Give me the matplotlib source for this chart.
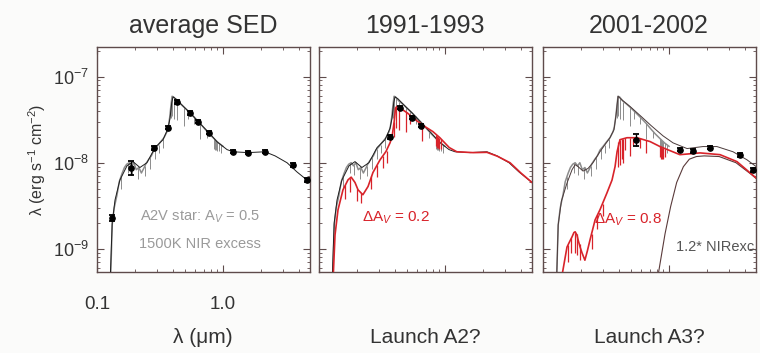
"""
Three-panel SED figure: average SED, 1991-1993 and 2001-2002 epochs.
"""
import matplotlib
matplotlib.use("Agg")
import matplotlib.pyplot as plt
from matplotlib.ticker import LogLocator, FixedLocator, FixedFormatter, NullFormatter

plt.rcParams["font.family"] = ["Liberation Sans", "DejaVu Sans"]
plt.rcParams["mathtext.fontset"] = "custom"
plt.rcParams["mathtext.rm"] = "Liberation Sans"
plt.rcParams["mathtext.it"] = "Liberation Sans:italic"

# ---- shared stellar spectrum (grey) ----
star_wl = [0.128, 0.132, 0.137, 0.144, 0.150, 0.158, 0.165, 0.172, 0.180, 0.188,
           0.196, 0.205, 0.215, 0.225, 0.235, 0.245, 0.258, 0.270, 0.283, 0.300,
           0.320, 0.340, 0.360, 0.368, 0.378, 0.386, 0.394, 0.405, 0.43, 0.46,
           0.50, 0.55, 0.60, 0.66, 0.72, 0.78, 0.85, 0.92, 1.00]
star_flux = [4.0e-10, 1.9e-9, 3.0e-9, 4.2e-9, 6.0e-9, 7.5e-9, 8.8e-9, 9.6e-9, 1.0e-8, 9.2e-9,
             1.0e-8, 8.3e-9, 8.8e-9, 7.6e-9, 8.6e-9, 9.8e-9, 1.1e-8, 1.2e-8, 1.4e-8, 1.55e-8,
             1.75e-8, 1.95e-8, 2.3e-8, 2.6e-8, 3.4e-8, 4.6e-8, 5.9e-8, 5.8e-8, 5.2e-8, 4.8e-8,
             4.3e-8, 3.75e-8, 3.3e-8, 2.85e-8, 2.45e-8, 2.15e-8, 1.9e-8, 1.7e-8, 1.55e-8]
star_line_wl = [0.155, 0.175, 0.19, 0.21, 0.24, 0.265, 0.29, 0.31, 0.335, 0.389, 0.397, 0.410,
                0.434, 0.486, 0.527, 0.589, 0.656, 0.75, 0.845, 0.866, 0.886, 0.901, 0.923, 0.955]
star_line_top = [6.8e-9, 9.8e-9, 9.5e-9, 8.6e-9, 9.2e-9, 1.15e-8, 1.45e-8, 1.6e-8, 1.9e-8, 5.2e-8,
                 5.9e-8, 5.7e-8, 5.1e-8, 4.4e-8, 4.0e-8, 3.45e-8, 2.9e-8, 2.35e-8, 1.9e-8, 1.85e-8,
                 1.8e-8, 1.75e-8, 1.7e-8, 1.62e-8]
star_line_bot = [5.0e-9, 7.5e-9, 7.2e-9, 6.5e-9, 7.0e-9, 8.5e-9, 1.1e-8, 1.3e-8, 1.5e-8, 3.3e-8,
                 3.5e-8, 3.2e-8, 3.1e-8, 2.7e-8, 3.2e-8, 2.8e-8, 1.9e-8, 1.95e-8, 1.45e-8, 1.4e-8,
                 1.4e-8, 1.35e-8, 1.35e-8, 1.3e-8]

# ---- total model, star + 1500K excess (black) ----
model_wl = [0.127, 0.132, 0.139, 0.152, 0.173, 0.193, 0.219, 0.249, 0.289, 0.334, 0.366,
            0.380, 0.392, 0.401, 0.424, 0.50, 0.547, 0.634, 0.774, 0.896, 1.076, 1.2,
            1.58, 2.15, 2.59, 3.22, 3.87, 4.9]
model_flux = [4.0e-10, 2.0e-9, 3.7e-9, 6.3e-9, 9.2e-9, 1.03e-8, 8.8e-9, 1.0e-8, 1.5e-8, 1.85e-8,
              2.5e-8, 3.3e-8, 5.0e-8, 5.8e-8, 5.5e-8, 4.3e-8, 3.8e-8, 3.0e-8, 2.23e-8, 1.75e-8,
              1.42e-8, 1.34e-8, 1.31e-8, 1.34e-8, 1.2e-8, 1.0e-8, 7.8e-9, 5.9e-9]

# ---- photometry ----
avg_wl = [0.132, 0.186, 0.283, 0.366, 0.431, 0.547, 0.634, 0.774, 1.2, 1.58, 2.15, 3.6, 4.64]
avg_flux = [2.3e-9, 8.75e-9, 1.49e-8, 2.55e-8, 5.1e-8, 3.8e-8, 3.0e-8, 2.23e-8, 1.34e-8,
            1.31e-8, 1.34e-8, 9.5e-9, 6.3e-9]
avg_err = [2.0e-10, 1.6e-9, 8.0e-10, 1.2e-9, 2.5e-9, 1.8e-9, 1.4e-9, 1.0e-9, 6.0e-10,
           6.0e-10, 6.0e-10, 5.0e-10, 4.0e-10]

e91_wl = [0.366, 0.44, 0.547, 0.64]
e91_flux = [2.0e-8, 4.36e-8, 3.33e-8, 2.7e-8]
e91_err = [1.0e-9, 2.0e-9, 1.5e-9, 1.2e-9]

e01_wl = [0.547, 1.22, 1.55, 2.11, 3.66, 4.64]
e01_flux = [1.85e-8, 1.42e-8, 1.38e-8, 1.5e-8, 1.24e-8, 8.3e-9]
e01_err = [3.0e-9, 7.0e-10, 7.0e-10, 7.0e-10, 6.0e-10, 5.0e-10]

# ---- 1991-1993: dAv = 0.2 (red) ----
red2_wl = [0.129, 0.134, 0.1415, 0.155, 0.170, 0.180, 0.193, 0.204, 0.223, 0.245, 0.268,
           0.305, 0.340, 0.366, 0.380, 0.395, 0.405, 0.415, 0.44, 0.50, 0.60, 0.70, 0.80,
           0.91, 1.08, 1.24, 1.67, 2.15, 2.6, 3.28, 4.0, 4.9]
red2_flux = [4.0e-10, 1.45e-9, 2.84e-9, 4.85e-9, 6.34e-9, 6.8e-9, 5.9e-9, 4.85e-9, 4.25e-9,
             5.3e-9, 7.7e-9, 1.08e-8, 1.35e-8, 1.7e-8, 2.0e-8, 3.0e-8, 4.3e-8, 4.5e-8, 4.3e-8,
             3.8e-8, 3.05e-8, 2.6e-8, 2.3e-8, 1.95e-8, 1.5e-8, 1.34e-8, 1.31e-8, 1.32e-8,
             1.19e-8, 1.0e-8, 7.6e-9, 5.9e-9]
red2_line_wl = [0.16, 0.175, 0.20, 0.215, 0.26, 0.29, 0.32, 0.345, 0.397, 0.41, 0.434, 0.486,
                0.527, 0.656, 0.85, 0.866, 0.886, 0.901, 0.923]
red2_line_top = [5.5e-9, 6.6e-9, 5.0e-9, 4.5e-9, 7.0e-9, 9.5e-9, 1.2e-8, 1.38e-8, 3.0e-8, 4.4e-8,
                 4.3e-8, 3.9e-8, 3.6e-8, 2.9e-8, 2.1e-8, 2.05e-8, 2.0e-8, 1.95e-8, 1.9e-8]
red2_line_bot = [3.8e-9, 4.6e-9, 3.6e-9, 3.4e-9, 5.0e-9, 6.8e-9, 8.8e-9, 1.0e-8, 2.0e-8, 2.5e-8,
                 2.4e-8, 2.3e-8, 2.8e-8, 1.8e-8, 1.55e-8, 1.5e-8, 1.5e-8, 1.45e-8, 1.45e-8]

# ---- 2001-2002: dAv = 0.8 (red), 1.2x NIR excess ----
m3_wl = [0.128, 0.132, 0.14, 0.155, 0.17, 0.18, 0.19, 0.208, 0.228, 0.249, 0.283, 0.31, 0.34,
         0.366, 0.38, 0.394, 0.42, 0.49, 0.60, 0.72, 0.896, 1.076, 1.39, 1.86, 2.4, 3.22,
         4.16, 5.3]
m3_flux = [4.0e-10, 1.9e-9, 3.6e-9, 5.8e-9, 8.3e-9, 9.5e-9, 9.0e-9, 8.0e-9, 8.6e-9, 1.0e-8,
           1.34e-8, 1.62e-8, 1.95e-8, 2.42e-8, 3.6e-8, 5.9e-8, 5.4e-8, 4.5e-8, 3.45e-8, 2.7e-8,
           2.05e-8, 1.7e-8, 1.46e-8, 1.54e-8, 1.54e-8, 1.34e-8, 1.08e-8, 8.3e-9]

red3_wl = [0.140, 0.150, 0.155, 0.162, 0.170, 0.176, 0.180, 0.186, 0.190, 0.197, 0.204, 0.215,
           0.225, 0.236, 0.259, 0.283, 0.322, 0.353, 0.373, 0.387, 0.408, 0.464, 0.557, 0.707,
           0.848, 1.22, 1.76, 2.54, 3.46, 4.39, 5.1]
red3_flux = [4.5e-10, 8.0e-10, 1.05e-9, 1.2e-9, 1.38e-9, 1.55e-9, 1.58e-9, 1.45e-9, 1.27e-9,
             1.05e-9, 9.0e-10, 7.4e-10, 9.5e-10, 1.27e-9, 2.17e-9, 2.84e-9, 4.48e-9, 6.3e-9,
             9.0e-9, 1.34e-8, 1.85e-8, 1.95e-8, 1.95e-8, 1.76e-8, 1.54e-8, 1.24e-8, 1.3e-8,
             1.24e-8, 1.03e-8, 7.65e-9, 6.34e-9]
red3_line_wl = [0.158, 0.168, 0.178, 0.185, 0.195, 0.245, 0.27, 0.30, 0.397, 0.41, 0.42, 0.434,
                0.45, 0.486, 0.52, 0.59, 0.656, 0.845, 0.866, 0.886, 0.901, 0.923]
red3_line_top = [1.1e-9, 1.35e-9, 1.55e-9, 1.5e-9, 1.15e-9, 1.5e-9, 2.5e-9, 3.3e-9, 1.75e-8,
                 1.85e-8, 1.88e-8, 1.9e-8, 1.92e-8, 1.95e-8, 1.95e-8, 1.92e-8, 1.85e-8, 1.55e-8,
                 1.52e-8, 1.5e-8, 1.48e-8, 1.45e-8]
red3_line_bot = [7.0e-10, 9.0e-10, 9.0e-10, 8.5e-10, 7.5e-10, 1.0e-9, 1.7e-9, 2.4e-9, 9.0e-9,
                 9.5e-9, 1.1e-8, 1.0e-8, 1.4e-8, 1.2e-8, 1.6e-8, 1.5e-8, 1.3e-8, 1.15e-8,
                 1.1e-8, 1.1e-8, 1.1e-8, 1.15e-8]

nir_wl = [0.81, 0.93, 1.03, 1.15, 1.30, 1.45, 1.65, 1.9, 2.5, 3.4, 4.4, 5.3]
nir_flux = [4.5e-10, 1.5e-9, 3.1e-9, 5.9e-9, 9.0e-9, 1.1e-8, 1.18e-8, 1.2e-8, 1.18e-8, 1.0e-8,
            7.5e-9, 6.0e-9]

titles = ["average SED", "1991-1993", "2001-2002"]
bottom_labels = ["λ (μm)", "Launch A2?", "Launch A3?"]

SPINE = "#5e4b4b"
GREY = "#8c8c8c"
RED = "#d8232a"
BLACK = "#1e1e1e"
TEXT = "#333333"

fig = plt.figure(figsize=(7.6, 3.53), dpi=100)
fig.patch.set_facecolor("#fbfbfa")

lefts = [97, 319, 543]
axes = []
for i, left in enumerate(lefts):
    ax = fig.add_axes([left / 760, (353 - 272) / 353, 213 / 760, 225 / 353])
    ax.set_xscale("log")
    ax.set_yscale("log")
    ax.set_xlim(0.1, 4.9)
    ax.set_ylim(5.4e-10, 2.2e-7)
    ax.xaxis.set_major_locator(FixedLocator([0.1, 1.0]))
    ax.xaxis.set_minor_locator(LogLocator(base=10, subs=range(2, 10)))
    ax.yaxis.set_major_locator(FixedLocator([1e-9, 1e-8, 1e-7]))
    ax.yaxis.set_minor_locator(LogLocator(base=10, subs=range(2, 10)))
    ax.xaxis.set_minor_formatter(NullFormatter())
    ax.yaxis.set_minor_formatter(NullFormatter())
    ax.tick_params(which="both", direction="in", top=True, right=True, colors=SPINE,
                   labelcolor=TEXT)
    ax.tick_params(which="major", length=5, width=0.8)
    ax.tick_params(which="minor", length=2.5, width=0.6)
    if i == 0:
        ax.xaxis.set_major_formatter(FixedFormatter(["0.1", "1.0"]))
        ax.yaxis.set_major_formatter(FixedFormatter([r"$10^{-9}$", r"$10^{-8}$", r"$10^{-7}$"]))
        ax.tick_params(axis="x", pad=17, labelsize=13.5)
        ax.tick_params(axis="y", pad=6, labelsize=13)
        ax.set_ylabel("λ (erg s$^{-1}$ cm$^{-2}$)", fontsize=11.5, color=TEXT, labelpad=3)
    else:
        ax.set_xticklabels([])
        ax.set_yticklabels([])
    for sp in ax.spines.values():
        sp.set_edgecolor(SPINE)
        sp.set_linewidth(1.0)
    ax.set_facecolor("white")
    fig.text((left + 106) / 760, 1 - 33 / 353, titles[i], ha="center", va="baseline",
             fontsize=18, color=TEXT)
    fig.text((left + 106) / 760, 1 - 343 / 353, bottom_labels[i], ha="center",
             va="baseline", fontsize=15, color=TEXT)
    axes.append(ax)

ax1, ax2, ax3 = axes

# panel 1
ax1.plot(star_wl, star_flux, color=GREY, lw=1.1, zorder=2)
ax1.vlines(star_line_wl, star_line_bot, star_line_top, color=GREY, lw=0.7, zorder=2)
ax1.plot(model_wl, model_flux, color=BLACK, lw=0.7, zorder=3)
ax1.errorbar(avg_wl, avg_flux, yerr=avg_err, fmt="o", ms=3.8, color="black",
             capsize=2.5, elinewidth=1.0, capthick=1.3, zorder=5)
ax1.text(0.484, 0.244, "A2V star: A$_V$ = 0.5", transform=ax1.transAxes, ha="center",
         va="center", fontsize=10.5, color="#9a9a9a")
ax1.text(0.484, 0.124, "1500K NIR excess", transform=ax1.transAxes, ha="center",
         va="center", fontsize=10.5, color="#9a9a9a")

# panel 2
ax2.plot(star_wl, star_flux, color=GREY, lw=1.1, zorder=2)
ax2.vlines(star_line_wl, star_line_bot, star_line_top, color=GREY, lw=0.7, zorder=2)
ax2.plot(model_wl, model_flux, color=BLACK, lw=0.7, zorder=3)
ax2.plot(red2_wl, red2_flux, color=RED, lw=1.2, zorder=4)
ax2.vlines(red2_line_wl, red2_line_bot, red2_line_top, color=RED, lw=0.9, zorder=4)
ax2.errorbar(e91_wl, e91_flux, yerr=e91_err, fmt="o", ms=3.8, color="black",
             capsize=2.5, elinewidth=1.0, capthick=1.3, zorder=5)
ax2.text(0.363, 0.24, "ΔA$_V$ = 0.2", transform=ax2.transAxes, ha="center",
         va="center", fontsize=11, color=RED)

# panel 3
ax3.plot(star_wl, star_flux, color=GREY, lw=1.1, zorder=2)
ax3.vlines(star_line_wl, star_line_bot, star_line_top, color=GREY, lw=0.7, zorder=2)
ax3.plot(m3_wl, m3_flux, color="#4a3a3a", lw=0.7, zorder=3)
ax3.plot(nir_wl, nir_flux, color="#5a3a3a", lw=0.8, zorder=3)
ax3.plot(red3_wl, red3_flux, color=RED, lw=1.2, zorder=4)
ax3.vlines(red3_line_wl, red3_line_bot, red3_line_top, color=RED, lw=0.9, zorder=4)
ax3.errorbar(e01_wl, e01_flux, yerr=e01_err, fmt="o", ms=3.8, color="black",
             capsize=2.5, elinewidth=1.0, capthick=1.3, zorder=5)
ax3.text(0.40, 0.231, "ΔA$_V$ = 0.8", transform=ax3.transAxes, ha="center",
         va="center", fontsize=11, color=RED)
ax3.text(0.626, 0.111, "1.2* NIRexc.", transform=ax3.transAxes, ha="left",
         va="center", fontsize=10.5, color="#555555")

fig.savefig("out.png", dpi=100, facecolor=fig.get_facecolor())
